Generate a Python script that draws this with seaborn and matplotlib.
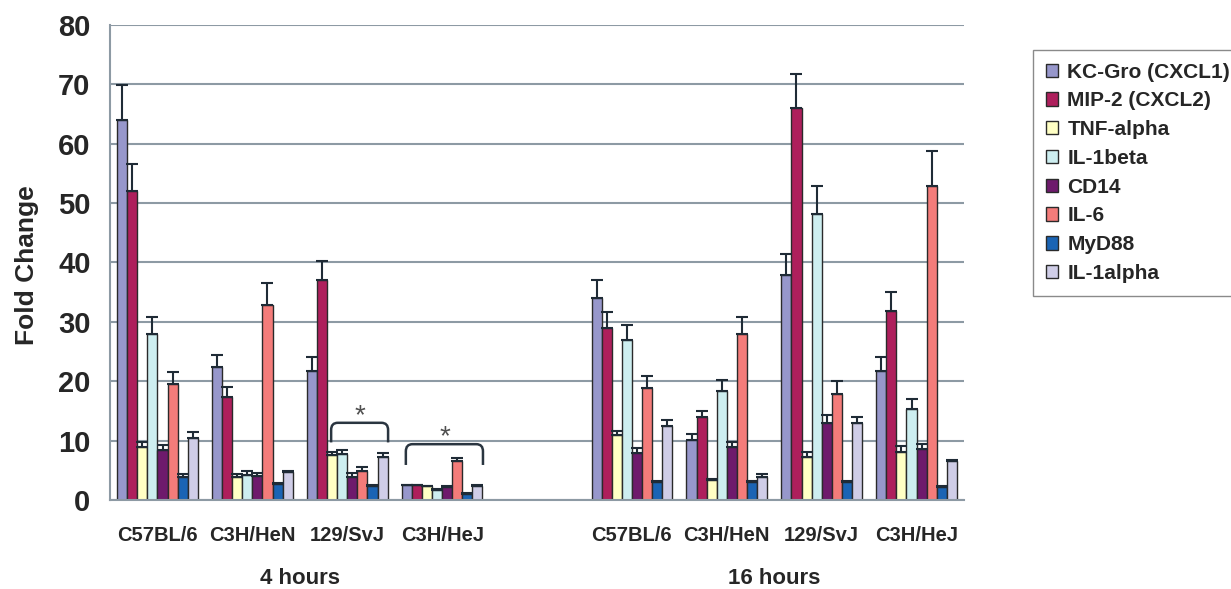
import numpy as np
import pandas as pd
import seaborn as sns
import matplotlib.pyplot as plt
from matplotlib.path import Path
from matplotlib.patches import PathPatch

# x slots: 4 strains at 4 h, an empty spacer, 4 strains at 16 h
slots = ["4h C57BL/6", "4h C3H/HeN", "4h 129/SvJ", "4h C3H/HeJ", "spacer",
         "16h C57BL/6", "16h C3H/HeN", "16h 129/SvJ", "16h C3H/HeJ"]
tick_labels = ["C57BL/6", "C3H/HeN", "129/SvJ", "C3H/HeJ", "",
               "C57BL/6", "C3H/HeN", "129/SvJ", "C3H/HeJ"]
strains = [s for s in slots if s != "spacer"]
time_labels = ["4 hours", "16 hours"]

genes = ["KC-Gro (CXCL1)", "MIP-2 (CXCL2)", "TNF-alpha", "IL-1beta",
         "CD14", "IL-6", "MyD88", "IL-1alpha"]
colors = ["#9797CB", "#AE1F5C", "#FFFFC4", "#CDEEF0", "#6E1A6C",
          "#F47C7A", "#1A64B4", "#CFCDE7"]

# fold change, one value per strain (order of `strains`)
kc    = [64.0, 22.4, 21.8, 2.5, 34.0, 10.1, 37.9, 21.8]
mip2  = [52.1, 17.4, 37.1, 2.5, 28.9, 13.9, 66.0, 31.9]
tnf   = [9.0, 3.8, 7.6, 2.3, 10.9, 3.4, 7.3, 8.1]
il1b  = [28.0, 4.2, 7.7, 1.7, 27.0, 18.3, 48.1, 15.3]
cd14  = [8.4, 4.0, 3.9, 2.2, 7.9, 9.0, 13.0, 8.6]
il6   = [19.5, 32.8, 4.9, 6.5, 18.8, 27.9, 17.9, 52.9]
myd88 = [3.9, 2.7, 2.4, 1.0, 3.1, 3.1, 3.1, 2.2]
il1a  = [10.5, 4.7, 7.3, 2.4, 12.4, 3.8, 13.0, 6.5]

# upper error bars
kc_err    = [5.9, 2.1, 2.2, 0.1, 3.0, 1.0, 3.6, 2.2]
mip2_err  = [4.5, 1.6, 3.2, 0.1, 2.8, 1.1, 5.8, 3.1]
tnf_err   = [0.7, 0.5, 0.5, 0.1, 0.8, 0.2, 0.7, 1.0]
il1b_err  = [2.8, 0.7, 0.7, 0.1, 2.5, 1.9, 4.7, 1.7]
cd14_err  = [0.8, 0.6, 0.6, 0.1, 0.8, 0.8, 1.3, 0.8]
il6_err   = [2.1, 3.8, 0.7, 0.5, 2.1, 3.0, 2.1, 5.8]
myd88_err = [0.4, 0.1, 0.1, 0.1, 0.1, 0.1, 0.1, 0.1]
il1a_err  = [0.9, 0.2, 0.6, 0.1, 1.1, 0.6, 0.9, 0.3]

values = [kc, mip2, tnf, il1b, cd14, il6, myd88, il1a]
errors = [kc_err, mip2_err, tnf_err, il1b_err, cd14_err, il6_err, myd88_err, il1a_err]

rows = []
for g, vals, errs in zip(genes, values, errors):
    for s, v, e in zip(strains, vals, errs):
        rows.append({"strain": s, "gene": g, "fold": v, "err": e})
df = pd.DataFrame(rows)

# significance brackets: slot, first gene, last gene, bracket top, leg end
brackets = [("4h 129/SvJ", "TNF-alpha", "IL-1alpha", 13.0, 9.7),
            ("4h C3H/HeJ", "KC-Gro (CXCL1)", "IL-1alpha", 9.4, 5.9)]

sns.set_style("white")
plt.rcParams["font.family"] = ["Liberation Sans", "DejaVu Sans"]
grey = "#8d9aa4"

fig = plt.figure(figsize=(12.31, 5.89), dpi=100)
ax = fig.add_axes([0.0894, 0.1511, 0.6937, 0.8065])

sns.barplot(data=df, x="strain", y="fold", hue="gene", order=slots,
            hue_order=genes, palette=colors, saturation=1, width=0.85,
            edgecolor="#2a2a2a", linewidth=1, errorbar=None, ax=ax)

bar_at = {}
for g, cont in zip(genes, ax.containers):
    sub = df[df.gene == g].set_index("strain")
    for bar in cont:
        xc = bar.get_x() + bar.get_width() / 2
        slot = slots[int(round(xc))]
        bar_at[(g, slot)] = bar
        ax.errorbar(xc, bar.get_height(), yerr=[[0], [sub.loc[slot, "err"]]],
                    fmt="none", ecolor="#1f2b36", elinewidth=1.5,
                    capsize=4, capthick=1.5, zorder=3)

for slot, g0, g1, ytop, yend in brackets:
    b0, b1 = bar_at[(g0, slot)], bar_at[(g1, slot)]
    x0 = b0.get_x() + b0.get_width() * 0.4
    x1 = b1.get_x() + b1.get_width() * 1.05
    rx, ry = 0.07, 1.2
    verts = [(x0, yend), (x0, ytop - ry), (x0, ytop), (x0 + rx, ytop),
             (x1 - rx, ytop), (x1, ytop), (x1, ytop - ry), (x1, yend)]
    codes = [Path.MOVETO, Path.LINETO, Path.CURVE3, Path.CURVE3,
             Path.LINETO, Path.CURVE3, Path.CURVE3, Path.LINETO]
    ax.add_patch(PathPatch(Path(verts, codes), fill=False,
                           edgecolor="#2a3540", lw=1.8, zorder=4))
    ax.text((x0 + x1) / 2, ytop + 1.1, "*", ha="center", va="center",
            fontsize=20, color="#505050")

ax.set_xlim(-0.5, 8.5)
ax.set_ylim(0, 80)
ax.set_yticks(range(0, 81, 10))
ax.yaxis.grid(True, color=grey, lw=1.5)
ax.set_axisbelow(True)
for side in ["top", "right"]:
    ax.spines[side].set_visible(False)
for side in ["left", "bottom"]:
    ax.spines[side].set_color(grey)
    ax.spines[side].set_linewidth(1.5)

ax.set_xticks(range(len(slots)))
ax.set_xticklabels(tick_labels, fontsize=14.5, fontweight="bold")
ax.set_xticks(np.arange(-0.5, len(slots), 1), minor=True)
ax.tick_params(axis="x", which="major", length=0, pad=19)
ax.tick_params(axis="x", which="minor", length=7, width=1.3, color=grey, direction="out")
ax.tick_params(axis="y", length=7, width=1.5, color=grey, direction="out", pad=7,
               labelsize=21)
for t in ax.get_yticklabels():
    t.set_fontweight("bold")

ax.set_xlabel("")
ax.set_ylabel("")
fig.text(27 / 1231, 0.55, "Fold Change", rotation=90, ha="center", va="center",
         fontsize=19, fontweight="bold")

for lab, center in zip(time_labels, [1.5, 6.5]):
    ax.text(center, -0.165, lab, transform=ax.get_xaxis_transform(),
            ha="center", va="center", fontsize=16, fontweight="bold")

handles, labels = ax.get_legend_handles_labels()
ax.get_legend().remove()
fig.legend(handles, labels, loc="upper left",
           bbox_to_anchor=(1033 / 1231, 1 - 50 / 589), frameon=True,
           fancybox=False, edgecolor="#8a8a8a", framealpha=1,
           prop={"weight": "bold", "size": 15}, handlelength=0.6,
           handleheight=0.6, handletextpad=0.45, labelspacing=0.47,
           borderpad=0.6, borderaxespad=0)

fig.savefig("out.png", dpi=100)
